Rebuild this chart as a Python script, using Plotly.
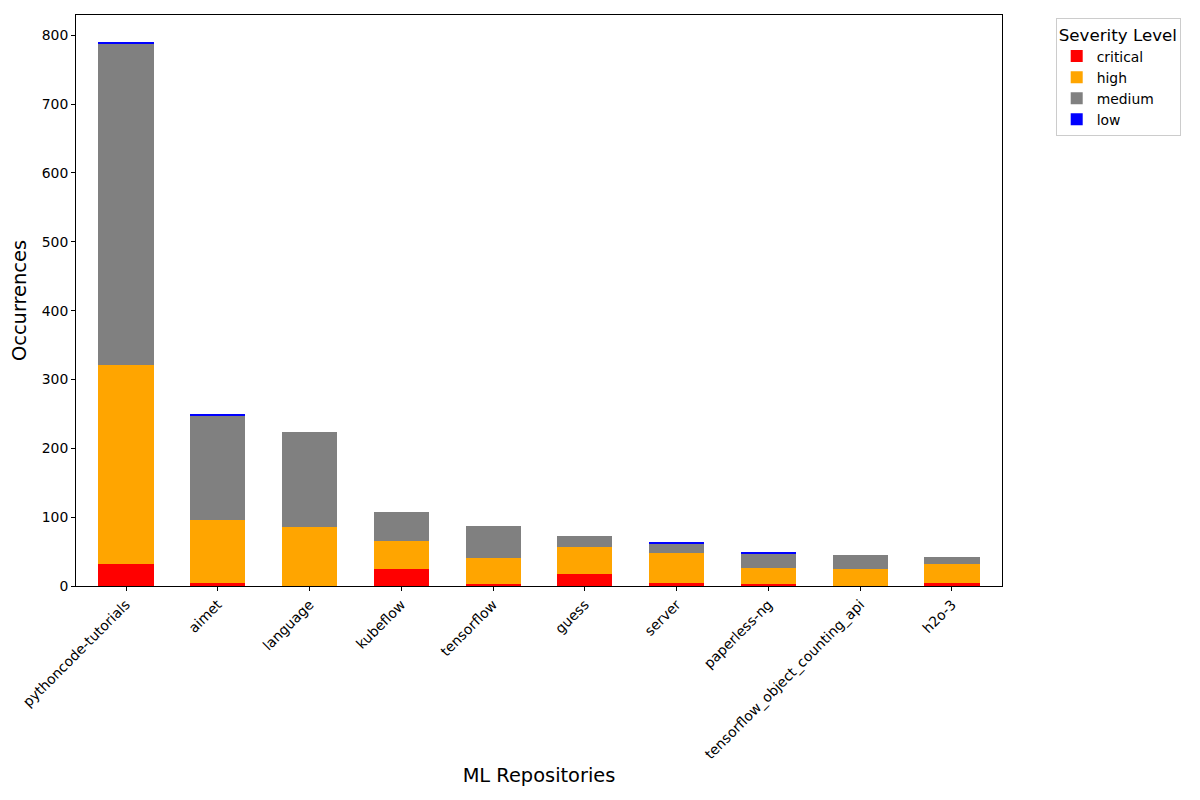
import plotly.graph_objects as go

repos = ["pythoncode-tutorials", "aimet", "language", "kubeflow", "tensorflow",
         "guess", "server", "paperless-ng", "tensorflow_object_counting_api", "h2o-3"]
critical = [32, 5, 0, 25, 3, 17, 4, 3, 0, 4]
high = [289, 91, 86, 40, 38, 40, 44, 23, 25, 28]
medium = [466, 152, 138, 42, 46, 16, 14, 21, 20, 10]
low = [3, 2, 0, 0, 0, 0, 1, 1, 0, 0]

series = [("critical", critical, "red"), ("high", high, "orange"),
          ("medium", medium, "gray"), ("low", low, "blue")]

fig = go.Figure()
for name, vals, color in series:
    fig.add_trace(go.Bar(x=list(range(len(repos))), y=vals, name=name,
                         marker=dict(color=color, line=dict(width=0)), width=0.6))

font = "DejaVu Sans, sans-serif"
fig.update_layout(
    barmode="stack", bargap=0,
    width=1200, height=800,
    margin=dict(l=68, r=206, t=7, b=222, autoexpand=False),
    plot_bgcolor="white", paper_bgcolor="white",
    font=dict(family=font, size=13.9, color="black"),
    legend=dict(title=dict(text="Severity Level", font=dict(size=16.7)),
                font=dict(size=13.9), x=1.058, y=0.995, xanchor="left", yanchor="top",
                bordercolor="#cccccc", borderwidth=1, traceorder="normal"),
    showlegend=True,
)
fig.update_xaxes(
    tickmode="array", tickvals=list(range(len(repos))), ticktext=repos,
    tickangle=-45, range=[-0.545, 9.545], automargin=False,
    showline=True, linecolor="black", linewidth=1, mirror=True,
    ticks="outside", ticklen=4, tickcolor="black", showgrid=False,
    title=dict(text="ML Repositories", font=dict(size=19.4), standoff=7),
    tickfont=dict(size=13.9),
)
fig.update_yaxes(
    range=[0, 829.5], tickvals=[0, 100, 200, 300, 400, 500, 600, 700, 800],
    automargin=False,
    showline=True, linecolor="black", linewidth=1, mirror=True,
    ticks="outside", ticklen=4, tickcolor="black", showgrid=False, zeroline=False,
    title=dict(text="Occurrences", font=dict(size=19.4), standoff=14),
    tickfont=dict(size=13.9),
)
fig.write_html("out.html")
